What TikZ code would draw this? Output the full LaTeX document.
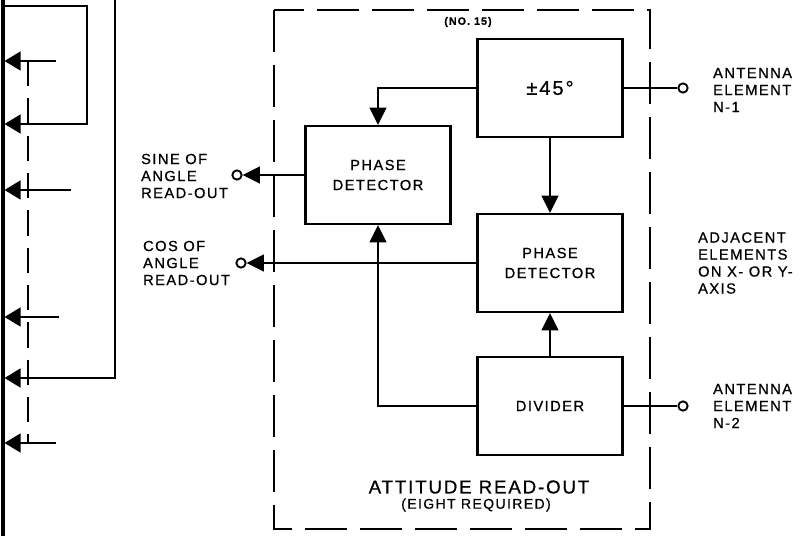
\documentclass[tikz,border=0pt]{standalone}
\usepackage{fontspec}
\setmainfont{Liberation Sans}
\newfontfamily\lettering[LetterSpace=10,FakeBold=0.8]{Liberation Sans}
\usetikzlibrary{arrows.meta}

\tikzset{every picture/.style={line width=1.7pt}}
\tikzset{
  blockbox/.style={draw, line width=1.7pt, minimum width=108.75pt, minimum height=73.5pt, align=center, font=\lettering\fontsize{11}{15}\selectfont},
  flow/.style={-{Triangle[length=13pt,width=12.5pt]}},
  busarrow/.style={-{Triangle[length=12pt,width=14pt]}},
  terminal/.style={draw, circle, line width=1.4pt, inner sep=0pt, minimum size=7pt},
  sidelabel/.style={anchor=west, align=left, inner sep=0pt, font=\lettering\fontsize{11}{12.75}\selectfont},
}

\begin{document}
\begin{tikzpicture}[x=0.75pt,y=0.75pt,yscale=-1,xscale=1]
\useasboundingbox (0,0) rectangle (801,536);

%Shape: Rectangle (dashed outline of the read-out unit)
\draw [dash pattern=on 31.5pt off 9.75pt] (274,10) rectangle (650,529);

%Blocks
\node [blockbox] (pm45) at (550,88) {\fontsize{15}{16}\selectfont ±45°};
\node [blockbox] (pdsin) at (378,175) {PHASE\\DETECTOR};
\node [blockbox] (pdcos) at (550,263) {PHASE\\DETECTOR};
\node [blockbox] (divider) at (550,406) {DIVIDER};

%Terminals
\node [terminal] (tsin) at (237,175) {};
\node [terminal] (tcos) at (241,263) {};
\node [terminal] (tn1) at (683,88) {};
\node [terminal] (tn2) at (683,406) {};

%Labels
\node [sidelabel] (lsin) at (140,176) {SINE OF\\ANGLE\\READ-OUT};
\node [sidelabel] (lcos) at (142,263) {COS OF\\ANGLE\\READ-OUT};
\node [sidelabel] (ln1) at (712,90) {ANTENNA\\ELEMENT\\N-1};
\node [sidelabel] (ladj) at (697,263) {ADJACENT\\ELEMENTS\\ON X- OR Y-\\AXIS};
\node [sidelabel] (ln2) at (712,406) {ANTENNA\\ELEMENT\\N-2};
\node [font=\lettering\bfseries\fontsize{8}{9}\selectfont] (lno) at (468,22) {(NO. 15)};
\node [font=\lettering\fontsize{14}{16}\selectfont] (ltitle) at (479,487) {ATTITUDE READ-OUT};
\node [font=\lettering\fontsize{10.5}{12}\selectfont] (lsub) at (476,505) {(EIGHT REQUIRED)};

%Straight Lines (signal paths)
\draw [flow] (pm45.west) -| (pdsin.north);
\draw [flow] (pm45.south) -- (pdcos.north);
\draw [flow] (divider.north) -- (pdcos.south);
\draw [flow] (divider.west) -| (pdsin.south);
\draw [flow] (pdsin.west) -- (tsin);
\draw [flow] (pdcos.west) -- (tcos);
\draw (pm45.east) -- (tn1);
\draw (divider.east) -- (tn2);

%Left-hand bus
\coordinate (bustop) at (3,0);
\coordinate (busbot) at (3,536);
\draw [line width=2.4pt] (bustop) -- (busbot);
\draw [dash pattern=on 19pt off 9pt, line width=1.3pt] (28,61) -- (28,443);
\foreach \y/\x in {61/56,190/71,317/59,443/56}{
  \coordinate (feed\y) at (\x,\y);
  \coordinate (tap\y) at (4.5,\y);
  \draw [busarrow] (feed\y) -- (tap\y);
}
\coordinate (loopa) at (3,6);
\coordinate (tap124) at (4.5,124);
\draw [busarrow] (loopa) -- (87,6) -- (87,124) -- (tap124);
\coordinate (loopb) at (115,0);
\coordinate (tap378) at (4.5,378);
\draw [busarrow] (loopb) -- (115,378) -- (tap378);

\end{tikzpicture}
\end{document}
